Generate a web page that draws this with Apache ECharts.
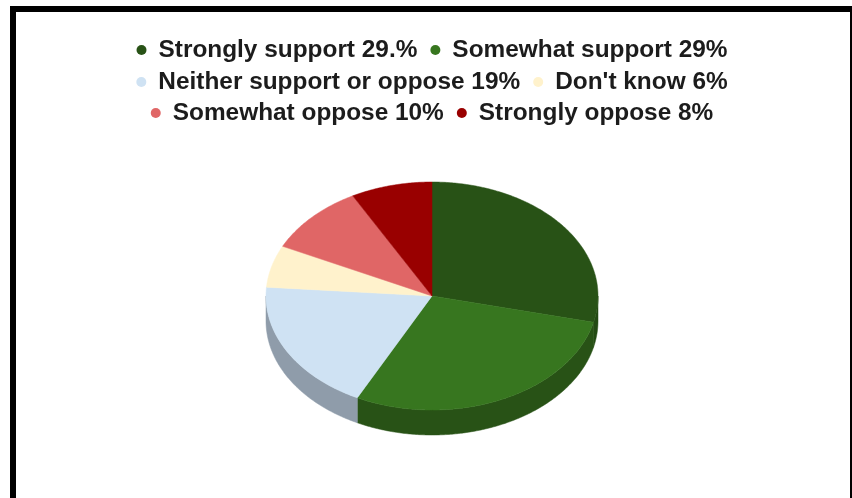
<!DOCTYPE html>
<html>
<head>
<meta charset="utf-8">
<script src="https://cdn.jsdelivr.net/npm/echarts@6/dist/echarts.min.js"></script>
<style>
html,body{margin:0;padding:0;background:#fff;overflow:hidden;width:852px;height:498px;}
#chart{width:864px;height:498px;}
</style>
</head>
<body>
<div id="chart"></div>
<script>
const categories = ['Strongly support','Somewhat support','Neither support or oppose',"Don't know",'Somewhat oppose','Strongly oppose'];
const legendLabels = ['Strongly support 29.%','Somewhat support 29%','Neither support or oppose 19%',"Don't know 6%",'Somewhat oppose 10%','Strongly oppose 8%'];
const values = [29, 29, 19, 6, 10, 8];
const topColors = ['#285216','#37761f','#cfe2f3','#fff2cc','#e06666','#990000'];
const sideColors = ['#234a13','#285216','#8f9caa','#c9bf9f','#b05050','#700000'];

const total = values.reduce((a,b)=>a+b,0);
const starts = [];
let acc = 0;
values.forEach(v=>{starts.push(acc); acc+=v;});

const CX = 432, CY = 296, RX = 166, RY = 114, DEPTH = 25;

function pt(t, dy){ return [CX + RX*Math.sin(t), CY - RY*Math.cos(t) + (dy||0)]; }
function arc(a, b, dy){
  const n = Math.max(2, Math.ceil((b-a)/0.01));
  const out = [];
  for(let k=0;k<=n;k++){ out.push(pt(a+(b-a)*k/n, dy)); }
  return out;
}

function renderItem(params, api){
  const i = params.seriesIndex;
  const s = api.value(0), v = api.value(1);
  const a0 = s/total*Math.PI*2, a1 = (s+v)/total*Math.PI*2;
  const children = [];
  const b0 = Math.max(a0, Math.PI/2), b1 = Math.min(a1, Math.PI*1.5);
  if(b1 > b0){
    const topEdge = arc(b0,b1,0);
    const botEdge = arc(b0,b1,DEPTH).reverse();
    children.push({type:'polygon', z2:1, shape:{points: topEdge.concat(botEdge)},
      style:{fill: sideColors[i], stroke: sideColors[i], lineWidth:0.5}});
  }
  const topPts = [[CX,CY]].concat(arc(a0,a1,0));
  children.push({type:'polygon', z2:10, shape:{points: topPts},
    style:{fill: topColors[i], stroke: topColors[i], lineWidth:0.5}});
  return {type:'group', children};
}

const series = categories.map((c,i)=>({
  type:'custom',
  name: legendLabels[i],
  coordinateSystem:'none',
  renderItem: renderItem,
  itemStyle:{color: topColors[i]},
  data: [[starts[i], values[i]]],
  silent: true
}));

const legendBase = {
  left:'center', icon:'circle', itemWidth:24, itemHeight:10, itemGap:13,
  selectedMode:false,
  textStyle:{fontFamily:'Liberation Sans', fontWeight:'bold', fontSize:24.4, color:'#1c1c1c'}
};

const chart = echarts.init(document.getElementById('chart'), null, {renderer:'canvas'});
chart.setOption({
  animation:false,
  backgroundColor:'#fff',
  graphic:[{type:'rect', shape:{x:13,y:9,width:840,height:600}, style:{fill:'none', stroke:'#000', lineWidth:6}, z:100}],
  legend:[
    Object.assign({}, legendBase, {top:33, data:[legendLabels[0], legendLabels[1]]}),
    Object.assign({}, legendBase, {top:65, data:[legendLabels[2], legendLabels[3]]}),
    Object.assign({}, legendBase, {top:96, data:[legendLabels[4], legendLabels[5]]})
  ],
  series: series
});
</script>
</body>
</html>
